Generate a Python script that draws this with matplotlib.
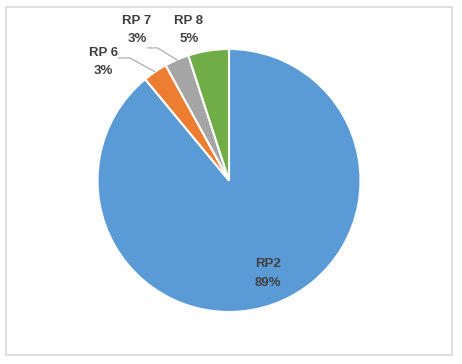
import numpy as np
import matplotlib.pyplot as plt
from matplotlib.patches import Rectangle

labels = ["RP2", "RP 6", "RP 7", "RP 8"]
values = [89, 3, 3, 5]
colors = ["#5B9BD5", "#ED7D31", "#A5A5A5", "#70AD47"]

fig = plt.figure(figsize=(4.62, 3.64), dpi=100)
fig.patch.set_facecolor("white")

# chart border
fig.patches.append(Rectangle((6 / 462, 9 / 364), 446 / 462, 348 / 364,
                             transform=fig.transFigure, fill=False,
                             edgecolor="#d9d9d9", linewidth=1.2))

ax = fig.add_axes([97.5 / 462, 52 / 364, 263 / 462, 263 / 364])
wedges, _ = ax.pie(values, colors=colors, startangle=90, counterclock=False,
                   radius=1, wedgeprops=dict(edgecolor="white", linewidth=1.5))
ax.set_xlim(-1, 1)
ax.set_ylim(-1, 1)
ax.set_aspect("equal")
ax.axis("off")

font = dict(family="Liberation Sans", fontsize=9.5, fontweight="bold",
            color="#404040", ha="center", va="center", linespacing=1.75)

total = sum(values)
pcts = [round(v * 100 / total) for v in values]
mids = [np.deg2rad((w.theta1 + w.theta2) / 2) for w in wedges]

# RP2 inside
ax.text(0.76 * np.cos(mids[0]) + 0.04, 0.76 * np.sin(mids[0]) + 0.01,
        f"{labels[0]}\n{pcts[0]}%", **font)

# outside labels
text_pos = {1: (-0.956, 0.901), 2: (-0.70, 1.144), 3: (-0.306, 1.144)}
leaders = {1: [(-0.839, 0.932), (-0.755, 0.932)],
           2: [(-0.618, 1.008), (-0.542, 1.008)]}
for i, (tx, ty) in text_pos.items():
    ax.text(tx, ty, f"{labels[i]}\n{pcts[i]}%", clip_on=False, **font)
    if i in leaders:
        pts = leaders[i] + [(np.cos(mids[i]), np.sin(mids[i]))]
        xs, ys = zip(*pts)
        ax.plot(xs, ys, color="#a6a6a6", linewidth=0.8, clip_on=False)

fig.savefig("out.png", dpi=100)
